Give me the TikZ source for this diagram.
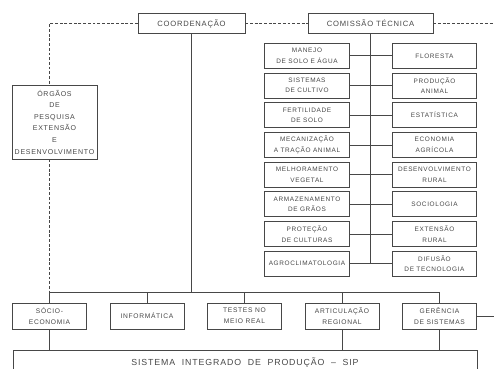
\documentclass[tikz,border=0pt]{standalone}
\usepackage{fontspec}
\newfontfamily\lettering[LetterSpace=10]{Liberation Sans}
\usetikzlibrary{positioning}
\definecolor{ink}{gray}{0.28}

\begin{document}
\begin{tikzpicture}[x=0.03cm, y=-0.03cm,
    box/.style={draw=ink, text=ink, line width=0.6pt, align=center,
        inner sep=1pt},
    head/.style={box, minimum height=0.58cm,
        font={\lettering\fontsize{6.5}{8}\selectfont}},
    unit/.style={box, minimum width=2.53cm, minimum height=0.75cm,
        font={\lettering\fontsize{5.5}{9}\selectfont}},
    area/.style={box, minimum width=2.22cm, minimum height=0.78cm,
        font={\lettering\fontsize{5.7}{9.5}\selectfont}},
    link/.style={draw=ink, line width=0.6pt},
    dlink/.style={link, dash pattern=on 2.5pt off 1.5pt}]
    \clip (0,0) rectangle (494,369);

    % topo
    \node[head, minimum width=3.21cm] (coord) at (191.5,23.5) {COORDENAÇÃO};
    \node[head, minimum width=3.75cm] (comis) at (370.5,23.5) {COMISSÃO TÉCNICA};
    \node[box, minimum width=2.55cm, minimum height=2.22cm,
        font={\lettering\fontsize{6}{9.9}\selectfont}] (org) at (54.5,122)
        {ÓRGÃOS\\DE\\PESQUISA\\EXTENSÃO\\E\\DESENVOLVIMENTO};

    % comissao tecnica
    \foreach \i/\ltxt/\rtxt in {
        1/{MANEJO\\DE SOLO E ÁGUA}/FLORESTA,
        2/{SISTEMAS\\DE CULTIVO}/{PRODUÇÃO\\ANIMAL},
        3/{FERTILIDADE\\DE SOLO}/ESTATÍSTICA,
        4/{MECANIZAÇÃO\\A TRAÇÃO ANIMAL}/{ECONOMIA\\AGRÍCOLA},
        5/{MELHORAMENTO\\VEGETAL}/{DESENVOLVIMENTO\\RURAL},
        6/{ARMAZENAMENTO\\DE GRÃOS}/SOCIOLOGIA,
        7/{PROTEÇÃO\\DE CULTURAS}/{EXTENSÃO\\RURAL},
        8/AGROCLIMATOLOGIA/{DIFUSÃO\\DE TECNOLOGIA}}
    {
        \node[unit] (l\i) at (307,{55.8+29.7*(\i-1)}) {\ltxt};
        \node[unit] (r\i) at (434.5,{55.8+29.7*(\i-1)}) {\rtxt};
        \draw[link] (l\i.east) -- (r\i.west);
    }
    \draw[link] (comis.south) -- (comis.south |- l8.east);

    % areas de apoio
    \foreach \i/\txt in {1/{SÓCIO-\\ECONOMIA}, 2/INFORMÁTICA,
        3/{TESTES NO\\MEIO REAL}, 4/{ARTICULAÇÃO\\REGIONAL},
        5/{GERÊNCIA\\DE SISTEMAS}}
    {
        \node[area] (b\i) at ({49.5+97.5*(\i-1)},316) {\txt};
    }
    \node[box, minimum width=13.92cm, minimum height=0.78cm,
        font={\lettering\fontsize{7.5}{9}\selectfont}] (sip) at (245,363)
        {SISTEMA\ \ INTEGRADO\ \ DE\ \ PRODUÇÃO\ \ –\ \ SIP};

    \coordinate (bus) at (0,292);
    \coordinate (tr) at (494,23.5);
    \coordinate (gr) at (494,316);

    % ligacoes
    \draw[dlink] (coord.east) -- (comis.west);
    \draw[dlink] (comis.east) -- (tr);
    \draw[dlink] (coord.west) -- (coord.west -| b1.north) -- (org.north -| b1.north);
    \draw[dlink] (org.south -| b1.north) -- (b1.north |- bus);
    \draw[link] (b1.north |- bus) -- (b5.north |- bus);
    \draw[link] (coord.south) -- (coord.south |- bus);
    \foreach \i in {1,...,5}
        \draw[link] (b\i.north) -- (b\i.north |- bus);
    \foreach \i in {1,4,5}
        \draw[link] (b\i.south) -- (b\i.south |- sip.north);
    \draw[link] (b5.east) -- (gr);

\end{tikzpicture}
\end{document}
